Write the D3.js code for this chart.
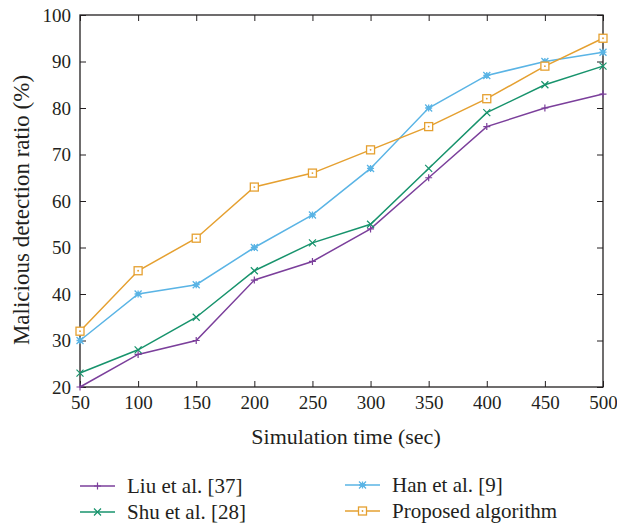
<!DOCTYPE html>
<html><head><meta charset="utf-8">
<script src="https://cdn.jsdelivr.net/npm/d3@7"></script>
<style>body{margin:0;background:#fff}</style>
</head><body><svg id="c" width="617" height="526"></svg>
<script>
const xValues = [50,100,150,200,250,300,350,400,450,500];
const liu = [20,27,30,43,47,54,65,76,80,83];
const shu = [23,28,35,45,51,55,67,79,85,89];
const han = [30,40,42,50,57,67,80,87,90,92];
const proposed = [32,45,52,63,66,71,76,82,89,95];
const seriesNames = ["Liu et al. [37]","Shu et al. [28]","Han et al. [9]","Proposed algorithm"];
const yTicks = [20,30,40,50,60,70,80,90,100];
const xLabel = "Simulation time (sec)";
const yLabel = "Malicious detection ratio (%)";

const FONT = "'Liberation Serif', 'Times New Roman', Times, 'DejaVu Serif', serif";
const INK = "#231f20";

const series = [
  {name:seriesNames[0], vals:liu, color:"#7b3f9b", marker:"plus"},
  {name:seriesNames[1], vals:shu, color:"#17936c", marker:"cross"},
  {name:seriesNames[2], vals:han, color:"#5ab4e5", marker:"star"},
  {name:seriesNames[3], vals:proposed, color:"#e5a030", marker:"square"}
];

const svg = d3.select("#c");
const L=80,R=603,T=15,B=387;
const x = d3.scaleLinear().domain([50,500]).range([L,R]);
const y = d3.scaleLinear().domain([20,100]).range([B,T]);

const g = svg.append("g");
const tl=6;
g.append("g").attr("transform",`translate(0,${B})`).call(d3.axisBottom(x).tickValues(xValues).tickSizeInner(-tl).tickSizeOuter(0).tickPadding(9))
 .call(a=>{a.select(".domain").remove();});
g.append("g").attr("transform",`translate(0,${T})`).call(d3.axisTop(x).tickValues(xValues).tickSizeInner(-tl).tickSizeOuter(0).tickFormat(""))
 .call(a=>a.select(".domain").remove());
g.append("g").attr("transform",`translate(${L},0)`).call(d3.axisLeft(y).tickValues(yTicks).tickSizeInner(-tl).tickSizeOuter(0).tickPadding(9))
 .call(a=>{a.select(".domain").remove();});
g.append("g").attr("transform",`translate(${R},0)`).call(d3.axisRight(y).tickValues(yTicks).tickSizeInner(-tl).tickSizeOuter(0).tickFormat(""))
 .call(a=>a.select(".domain").remove());
g.selectAll("g").attr("font-family",FONT).attr("font-size",19);
g.selectAll(".tick text").attr("fill",INK).style("font-family",FONT).style("font-size","19px");
g.selectAll(".tick line").attr("stroke",INK).attr("stroke-width",1);
g.append("rect").attr("x",L).attr("y",T).attr("width",R-L).attr("height",B-T).attr("fill","none").attr("stroke",INK).attr("stroke-width",1.3);

function drawMarker(sel, type, color, cx, cy){
  const s=3.5;
  if(type==="plus"){
    sel.append("path").attr("d",`M${cx-s},${cy}H${cx+s}M${cx},${cy-s}V${cy+s}`).attr("stroke",color).attr("stroke-width",1.2);
  } else if(type==="cross"){
    sel.append("path").attr("d",`M${cx-s},${cy-s}L${cx+s},${cy+s}M${cx-s},${cy+s}L${cx+s},${cy-s}`).attr("stroke",color).attr("stroke-width",1.2);
  } else if(type==="star"){
    sel.append("path").attr("d",`M${cx-s},${cy-s}L${cx+s},${cy+s}M${cx-s},${cy+s}L${cx+s},${cy-s}M${cx-s},${cy}H${cx+s}M${cx},${cy-s}V${cy+s}`).attr("stroke",color).attr("stroke-width",1.3);
    sel.append("rect").attr("x",cx-2).attr("y",cy-2).attr("width",4).attr("height",4).attr("fill",color);
  } else {
    sel.append("rect").attr("x",cx-s-0.5).attr("y",cy-s-0.5).attr("width",2*s+1).attr("height",2*s+1).attr("fill","#fff").attr("stroke",color).attr("stroke-width",1.3);
    sel.append("circle").attr("cx",cx).attr("cy",cy).attr("r",0.9).attr("fill",color);
  }
}

const line = d3.line().x((d,i)=>x(xValues[i])).y(d=>y(d));
series.forEach(s=>{
  const sg = svg.append("g");
  sg.append("path").datum(s.vals).attr("d",line).attr("fill","none").attr("stroke",s.color).attr("stroke-width",1.5);
  s.vals.forEach((v,i)=>drawMarker(sg,s.marker,s.color,x(xValues[i]),y(v)));
});

function txt(sel){ return sel.style("font-family",FONT).attr("fill",INK); }
txt(svg.append("text").attr("x",346).attr("y",444).attr("text-anchor","middle").style("font-size","22px").text(xLabel));
txt(svg.append("text").attr("transform",`translate(29,210) rotate(-90)`).attr("text-anchor","middle").style("font-size","23px").text(yLabel));

const legPos = [[80,486],[80,512],[345,485],[345,511]];
series.forEach((s,i)=>{
  const [lx,ly]=legPos[i];
  const lg=svg.append("g");
  lg.append("line").attr("x1",lx).attr("x2",lx+35).attr("y1",ly).attr("y2",ly).attr("stroke",s.color).attr("stroke-width",1.5);
  drawMarker(lg,s.marker,s.color,lx+17.5,ly);
  txt(lg.append("text").attr("x",lx+47).attr("y",ly+7).style("font-size","21px").text(s.name));
});
</script></body></html>
